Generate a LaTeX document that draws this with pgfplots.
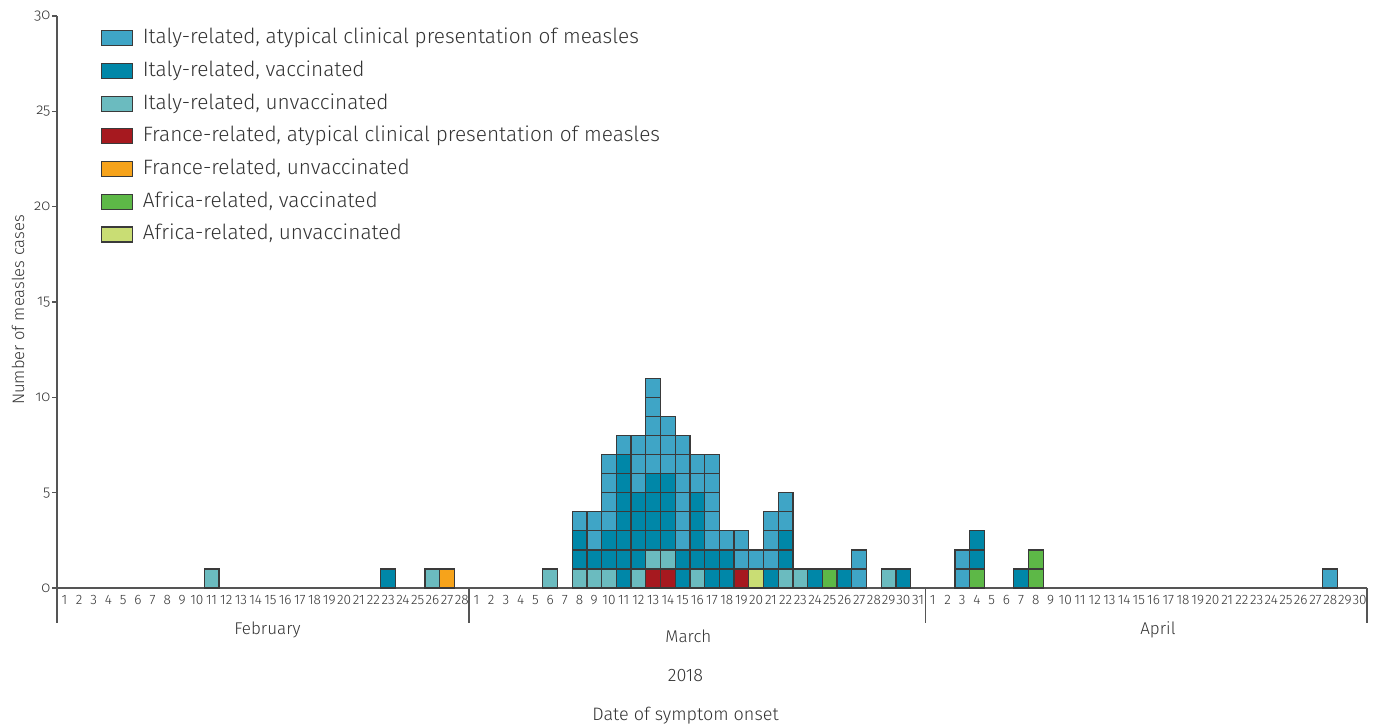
\documentclass[border=0pt]{standalone}
\usepackage{fontspec}
\setmainfont{Fira Sans Light}
\newfontfamily\osf{Fira Sans Light}[Numbers=OldStyle]
\usepackage{pgfplots}
\usepackage{pgfplotstable}
\pgfplotsset{compat=1.18}

\definecolor{cIA}{HTML}{3FA5C6}
\definecolor{cIV}{HTML}{0087A8}
\definecolor{cIU}{HTML}{6BBBBF}
\definecolor{cFA}{HTML}{A6191F}
\definecolor{cFU}{HTML}{F6A31B}
\definecolor{cAV}{HTML}{5DB847}
\definecolor{cAU}{HTML}{C9DD74}
\definecolor{cEdge}{HTML}{3A3A3A}
\definecolor{cAxis}{HTML}{555555}
\definecolor{cText}{HTML}{333333}

\pgfplotsset{caselegend/.style={legend image code/.code={%
  \draw[##1, line width=0.6pt] (0pt,-3.75pt) rectangle (15.5pt,3.75pt);}}}

% day index: Feb d -> d, Mar d -> 28+d, Apr d -> 59+d
% ia/iv/iu = Italy atypical/vaccinated/unvaccinated, fa/fu = France, av/au = Africa
\pgfplotstableread{
x  ia iv iu fa fu av au
11 0  0  1  0  0  0  0
23 0  1  0  0  0  0  0
26 0  0  1  0  0  0  0
27 0  0  0  0  1  0  0
34 0  0  1  0  0  0  0
36 1  2  1  0  0  0  0
37 2  1  1  0  0  0  0
38 4  2  1  0  0  0  0
39 1  7  0  0  0  0  0
40 3  4  1  0  0  0  0
41 5  4  1  1  0  0  0
42 3  4  1  1  0  0  0
43 6  2  0  0  0  0  0
44 2  4  1  0  0  0  0
45 5  2  0  0  0  0  0
46 1  2  0  0  0  0  0
47 2  0  0  1  0  0  0
48 1  0  0  0  0  0  1
49 3  1  0  0  0  0  0
50 2  2  1  0  0  0  0
51 0  0  1  0  0  0  0
52 0  1  0  0  0  0  0
53 0  0  0  0  0  1  0
54 0  1  0  0  0  0  0
55 2  0  0  0  0  0  0
57 0  0  1  0  0  0  0
58 0  1  0  0  0  0  0
62 2  0  0  0  0  0  0
63 0  2  0  0  0  1  0
66 0  1  0  0  0  0  0
67 0  0  0  0  0  2  0
87 1  0  0  0  0  0  0
}\casetab

% one layer of unit cells: colour, column, level
\newcommand{\layer}[4][forget plot]{%
  \addplot[fill=#2, #1] table[x=x, y expr={\thisrow{#3}>=#4 ? 1 : 0}] {\casetab};}

\begin{document}
\begin{tikzpicture}
\begin{axis}[
  scale only axis, width=655pt, height=286pt,
  xmin=0.5, xmax=89.5, ymin=0, ymax=30,
  ybar stacked, bar width=1,
  every axis plot/.append style={draw=cEdge, line width=0.65pt},
  axis x line*=bottom, axis y line*=left,
  axis line style={draw=cAxis, line width=0.8pt},
  xtick={1,...,89},
  xticklabels={1,2,3,4,5,6,7,8,9,10,11,12,13,14,15,16,17,18,19,20,21,22,23,24,25,26,27,28,
    1,2,3,4,5,6,7,8,9,10,11,12,13,14,15,16,17,18,19,20,21,22,23,24,25,26,27,28,29,30,31,
    1,2,3,4,5,6,7,8,9,10,11,12,13,14,15,16,17,18,19,20,21,22,23,24,25,26,27,28,29,30},
  major x tick style={draw=none},
  ytick={0,5,...,30},
  tick align=outside, major tick length=2.5pt,
  major y tick style={draw=cAxis, line width=0.8pt},
  xticklabel style={font=\fontsize{6.8}{7}\selectfont, text=cText, inner sep=0.8pt},
  yticklabel style={font=\osf\fontsize{7.5}{8}\selectfont, text=cText, inner sep=1pt, xshift=0.4pt},
  /pgf/number format/assume math mode=true,
  ylabel={Number of measles cases},
  ylabel style={font=\fontsize{8.3}{10}\selectfont, text=cText,
    at={(axis description cs:-0.0298,0.486)}, anchor=center},
  clip=false,
  reverse legend,
  legend style={at={(axis description cs:0.033,0.982)}, anchor=north west,
    draw=none, fill=none, row sep=4.85pt,
    font=\fontsize{10.4}{12}\selectfont, text=cText,
    cells={anchor=west}, inner sep=0pt,
    nodes={inner sep=0.5pt, text height=8pt, text depth=2.5pt},
    /tikz/every odd column/.append style={column sep=4.5pt}},
]
\layer[caselegend]{cAU}{au}{1}
\addlegendentry{Africa-related, unvaccinated}
\layer[caselegend]{cAV}{av}{1}
\addlegendentry{Africa-related, vaccinated}
\layer{cAV}{av}{2}
\layer[caselegend]{cFU}{fu}{1}
\addlegendentry{France-related, unvaccinated}
\layer[caselegend]{cFA}{fa}{1}
\addlegendentry{France-related, atypical clinical presentation of measles}
\layer[caselegend]{cIU}{iu}{1}
\addlegendentry{Italy-related, unvaccinated}
\layer[caselegend]{cIV}{iv}{1}
\addlegendentry{Italy-related, vaccinated}
\layer{cIV}{iv}{2}
\layer{cIV}{iv}{3}
\layer{cIV}{iv}{4}
\layer{cIV}{iv}{5}
\layer{cIV}{iv}{6}
\layer{cIV}{iv}{7}
\layer[caselegend]{cIA}{ia}{1}
\addlegendentry{Italy-related, atypical clinical presentation of measles}
\layer{cIA}{ia}{2}
\layer{cIA}{ia}{3}
\layer{cIA}{ia}{4}
\layer{cIA}{ia}{5}
\layer{cIA}{ia}{6}

% month separators and labels
\draw[cAxis, line width=0.8pt] (rel axis cs:0,0) -- ++(0pt,-17.5pt);
\draw[cAxis, line width=0.8pt] (axis cs:28.5,0) -- ++(0pt,-17.5pt);
\draw[cAxis, line width=0.8pt] (axis cs:59.5,0) -- ++(0pt,-17.5pt);
\draw[cAxis, line width=0.8pt] (rel axis cs:1,0) -- ++(0pt,-17.5pt);
\node[font=\fontsize{8.5}{10}\selectfont, text=cText, yshift=-21pt] at (axis cs:14.8,0) {February};
\node[font=\fontsize{8.5}{10}\selectfont, text=cText, yshift=-24pt] at (axis cs:43.4,0) {March};
\node[font=\fontsize{8.5}{10}\selectfont, text=cText, yshift=-21pt] at (axis cs:75.3,0) {April};
\node[font=\fontsize{9}{10}\selectfont, text=cText, yshift=-44pt] at (axis cs:43.2,0) {2018};
\node[font=\fontsize{9}{10}\selectfont, text=cText, yshift=-64pt] at (axis cs:43.2,0) {Date of symptom onset};
\coordinate (O) at (rel axis cs:0,0);
\end{axis}
\pgfresetboundingbox
\path ([shift={(-28.5pt,-68pt)}]O) rectangle ([shift={(659pt,294pt)}]O);
\end{tikzpicture}
\end{document}
